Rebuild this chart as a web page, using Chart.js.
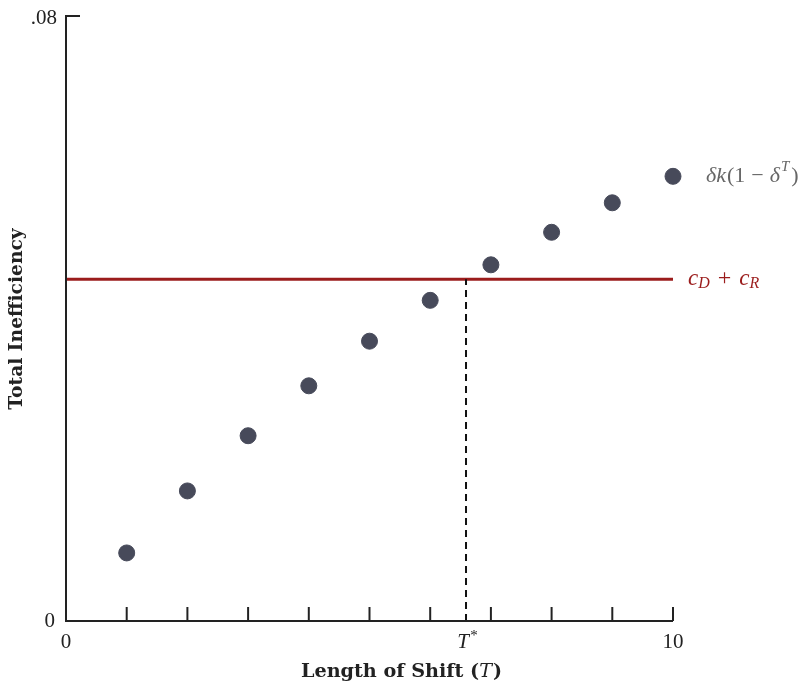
<!DOCTYPE html>
<html><head><meta charset="utf-8">
<script src="https://cdn.jsdelivr.net/npm/chart.js@4/dist/chart.umd.min.js"></script>
<style>html,body{margin:0;padding:0;background:#fff}#wrap{width:805px;height:686px}</style>
</head><body><div id="wrap"><canvas id="c" width="805" height="686"></canvas></div>
<script>
const shiftLengths = [1,2,3,4,5,6,7,8,9,10];
const inefficiency = [0.0090,0.0172,0.0245,0.0311,0.0370,0.0424,0.0471,0.0514,0.0553,0.0588];
const costLevel = 0.0452;
const tStar = 6.59;
const xTickValues = [1,2,3,4,5,6,7,8,9,10];
const xRange = [0,10];
const yRange = [0,0.08];

const serif = '"Liberation Serif","DejaVu Serif",serif';
const wideSerif = '"DejaVu Serif","Liberation Serif",serif';

function fitSize(ctx, text, style, family, target){
  ctx.font = style+' 20px '+family;
  const w = ctx.measureText(text).width;
  return 20*target/w;
}

const axesPlugin = {
  id:'axesPlugin',
  afterDraw(chart){
    const ctx = chart.ctx, xs = chart.scales.x, ys = chart.scales.y;
    const x0 = xs.getPixelForValue(xRange[0]), x1 = xs.getPixelForValue(xRange[1]);
    const y0 = ys.getPixelForValue(yRange[0]), y1 = ys.getPixelForValue(yRange[1]);
    ctx.save();
    ctx.strokeStyle='#222'; ctx.lineWidth=2;
    ctx.beginPath();
    ctx.moveTo(x0+14,y1); ctx.lineTo(x0,y1); ctx.lineTo(x0,y0); ctx.lineTo(x1,y0);
    ctx.stroke();
    xTickValues.forEach(v=>{
      const px = xs.getPixelForValue(v);
      ctx.beginPath(); ctx.moveTo(px,y0); ctx.lineTo(px,y0-14); ctx.stroke();
    });
    ctx.fillStyle='#222';
    ctx.font='21px '+serif;
    ctx.textAlign='center'; ctx.textBaseline='middle';
    ctx.fillText('0', x0, y0+21);
    ctx.fillText('10', x1, y0+21);
    ctx.textAlign='right';
    ctx.fillText('0', x0-11, y0);
    ctx.fillText('.08', x0-9, y1+2);
    // T*
    const ts = xs.getPixelForValue(tStar);
    ctx.font='italic 21px '+serif; ctx.textAlign='center';
    ctx.fillText('T', ts-3, y0+21);
    ctx.font='15px '+serif;
    ctx.fillText('*', ts+8, y0+15);
    // x title
    ctx.textAlign='left';
    const fs = fitSize(ctx,'Length of Shift (T)','bold',wideSerif,202);
    const bf = 'bold '+fs.toFixed(1)+'px '+wideSerif;
    const itf = 'italic '+fs.toFixed(1)+'px '+wideSerif;
    ctx.font=bf;
    const t1='Length of Shift (';
    const w1=ctx.measureText(t1).width;
    ctx.font=itf;
    const w2=ctx.measureText('T').width;
    ctx.font=bf;
    const w3=ctx.measureText(')').width;
    let sx = 401 - (w1+w2+w3)/2;
    const ty = 672;
    ctx.fillText(t1, sx, ty);
    ctx.font=itf;
    ctx.fillText('T', sx+w1, ty);
    ctx.font=bf;
    ctx.fillText(')', sx+w1+w2+1, ty);
    // y title
    ctx.save();
    ctx.translate(17,319);
    ctx.rotate(-Math.PI/2);
    ctx.textAlign='center';
    const fy = fitSize(ctx,'Total Inefficiency','bold',wideSerif,182);
    ctx.font='bold '+fy.toFixed(1)+'px '+wideSerif;
    ctx.fillText('Total Inefficiency',0,0);
    ctx.restore();
    // series label
    const lx = x1+33;
    const ly = ys.getPixelForValue(inefficiency[inefficiency.length-1]);
    ctx.fillStyle='#666';
    ctx.textAlign='left';
    ctx.font='italic 22px '+serif;
    let p = lx;
    ctx.fillText('δk', p, ly); p+=ctx.measureText('δk').width+1;
    ctx.font='22px '+serif;
    ctx.fillText('(1', p, ly); p+=ctx.measureText('(1').width+6;
    ctx.fillText('−', p, ly); p+=ctx.measureText('−').width+6;
    ctx.font='italic 22px '+serif;
    ctx.fillText('δ', p, ly); p+=ctx.measureText('δ').width;
    ctx.font='italic 15px '+serif;
    ctx.fillText('T', p+1, ly-9); p+=ctx.measureText('T').width+3;
    ctx.font='22px '+serif;
    ctx.fillText(')', p, ly);
    // cost label
    const cy = ys.getPixelForValue(costLevel);
    ctx.fillStyle='#9b1c1c';
    p = x1+15;
    ctx.font='italic 23px '+serif;
    ctx.fillText('c', p, cy); p+=ctx.measureText('c').width;
    ctx.font='italic 16px '+serif;
    ctx.fillText('D', p, cy+5); p+=ctx.measureText('D').width+8;
    ctx.font='24px '+serif;
    ctx.fillText('+', p, cy); p+=ctx.measureText('+').width+8;
    ctx.font='italic 23px '+serif;
    ctx.fillText('c', p, cy); p+=ctx.measureText('c').width;
    ctx.font='italic 16px '+serif;
    ctx.fillText('R', p, cy+5);
    ctx.restore();
  }
};

new Chart(document.getElementById('c'),{
  type:'scatter',
  data:{datasets:[
    {type:'line', data:[{x:tStar,y:yRange[0]},{x:tStar,y:costLevel}], borderColor:'#111', borderWidth:2, borderDash:[7,5], pointRadius:0, fill:false},
    {type:'line', data:[{x:xRange[0],y:costLevel},{x:xRange[1],y:costLevel}], borderColor:'#9b1c1c', borderWidth:3, pointRadius:0, fill:false},
    {data:shiftLengths.map((x,i)=>({x, y:inefficiency[i]})), backgroundColor:'#474a5a', borderColor:'#474a5a', pointRadius:8, pointHoverRadius:8, clip:false}
  ]},
  options:{
    responsive:false, animation:false,
    layout:{padding:{left:66,right:132,top:16,bottom:65}},
    plugins:{legend:{display:false},tooltip:{enabled:false}},
    scales:{
      x:{type:'linear',min:xRange[0],max:xRange[1],display:false},
      y:{type:'linear',min:yRange[0],max:yRange[1],display:false}
    }
  },
  plugins:[axesPlugin]
});
</script></body></html>
